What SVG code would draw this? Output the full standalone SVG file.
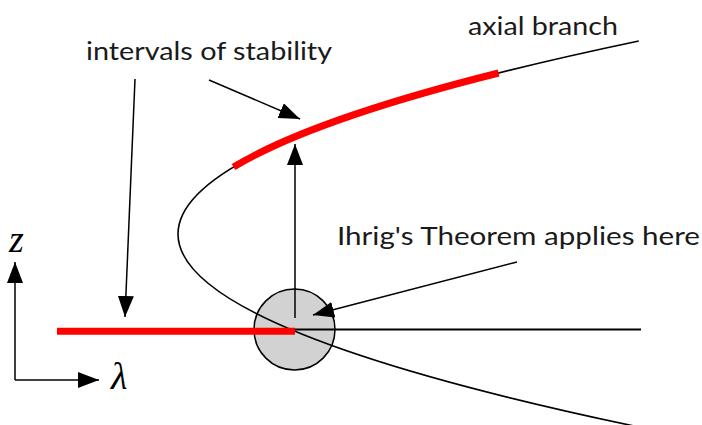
<svg xmlns="http://www.w3.org/2000/svg" width="702" height="425" viewBox="0 0 702 425">
<defs>
<marker id="ah" markerUnits="userSpaceOnUse" markerWidth="22" markerHeight="18" refX="21" refY="8" orient="auto">
<path d="M0,0 L21,8 L0,16 Z" fill="#000"/>
</marker>
<style>
.lbl{font-family:"Lato","Noto Sans",sans-serif;font-size:24.5px;font-weight:400;fill:#1a1a1a}
.math{font-family:"Liberation Serif","Times New Roman",serif;font-style:italic;font-size:38px;fill:#000}
.curve{fill:none;stroke:#000;stroke-width:1.6}
.stab{fill:none;stroke:#ff0000;stroke-width:7}
.conn{fill:none;stroke:#000;stroke-width:1.5;marker-end:url(#ah)}
</style>
</defs>
<rect width="702" height="425" fill="#fff"/>
<g id="circle"><circle cx="294.5" cy="329.5" r="40.5" fill="#d2d2d2" stroke="#000" stroke-width="1.5"/></g>
<g id="branches">
<path class="curve" d="M638.8,41 Q-282.8,234 638.8,427"/>
<line x1="295" y1="329.5" x2="641" y2="329.5" stroke="#000" stroke-width="2"/>
<path class="stab" d="M233.5,167 Q311.4,120 498.6,73"/>
<line class="stab" x1="57" y1="331.3" x2="295" y2="331.3"/>
</g>
<g id="labels">
<text class="lbl" x="86" y="60" textLength="246" lengthAdjust="spacingAndGlyphs">intervals of stability</text>
<text class="lbl" x="468" y="35" textLength="150" lengthAdjust="spacingAndGlyphs">axial branch</text>
<text class="lbl" x="337" y="245" textLength="363" lengthAdjust="spacingAndGlyphs">Ihrig's Theorem applies here</text>
<text class="math" x="9" y="252">z</text>
<text class="math" x="111" y="389">λ</text>
</g>
<g id="connectors">
<line class="conn" x1="135" y1="79" x2="125" y2="317"/>
<line class="conn" x1="209" y1="80" x2="300" y2="119"/>
<line class="conn" x1="295" y1="318" x2="295" y2="144"/>
<line class="conn" x1="517" y1="262" x2="313" y2="315"/>
<line class="conn" x1="15" y1="380" x2="15" y2="262"/>
<line class="conn" x1="15" y1="380" x2="99" y2="380"/>
</g>
</svg>
